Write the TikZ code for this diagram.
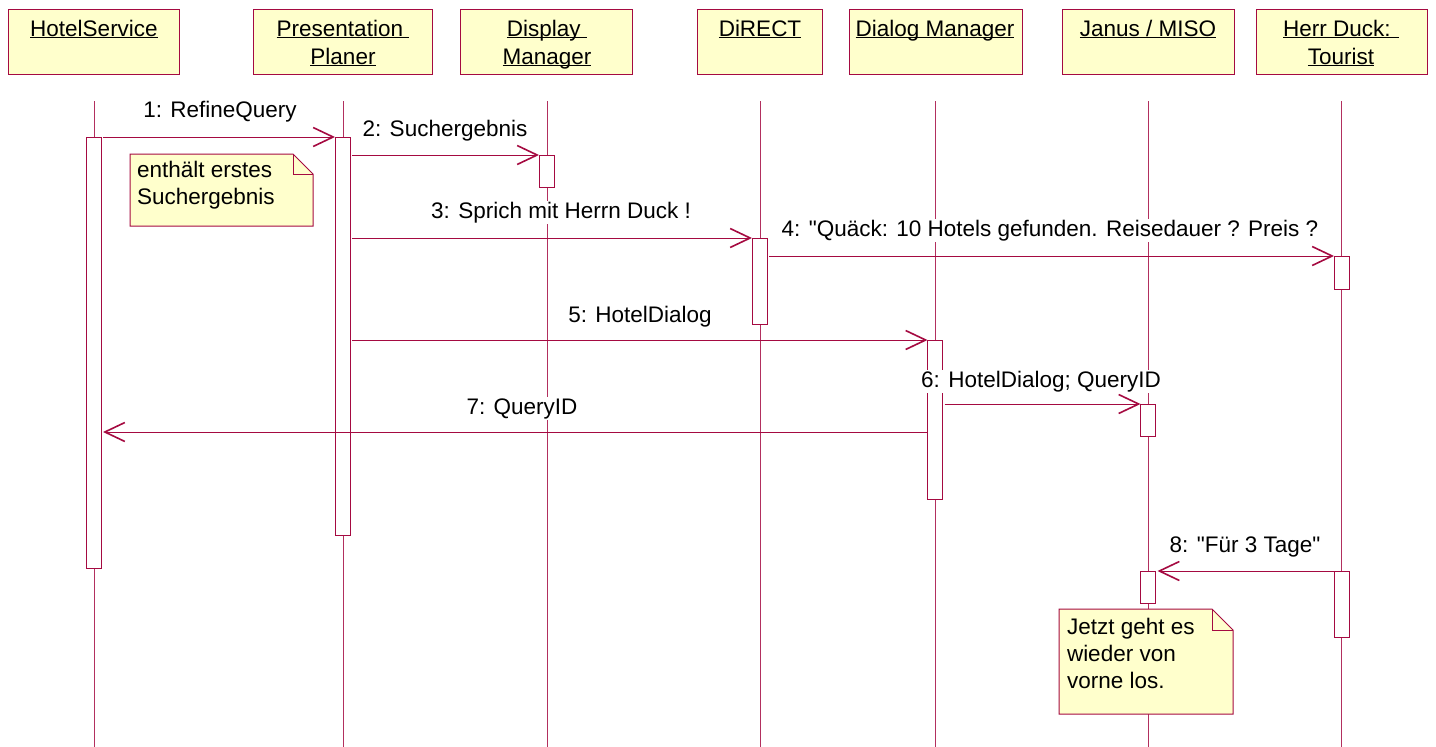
\documentclass[tikz,border=0pt]{standalone}
\usepackage{fontspec}
\setmainfont{Liberation Sans}[Ligatures=TeXOff]
\usetikzlibrary{arrows.meta,calc}
\definecolor{uml}{RGB}{165,10,65}
\definecolor{umlfill}{RGB}{255,255,204}
\newcommand\ulx[1]{\underline{\smash{#1}}}
\begin{document}
\begin{tikzpicture}[x=1pt,y=-1pt,
  every node/.style={font=\fontsize{22.5}{27}\selectfont, inner sep=0pt, outer sep=0pt},
  head/.style={draw=uml, fill=umlfill, line width=1pt, rectangle, minimum height=65pt},
  htext/.style={anchor=base},
  life/.style={draw=uml!85, line width=0.9pt},
  act/.style={draw=uml, fill=white, line width=1pt, rectangle, minimum width=15pt},
  msg/.style={draw=uml, line width=1pt, -{Straight Barb[length=20pt,width=19pt,line width=1.6pt]}},
  lbl/.style={fill=white, inner sep=1pt, anchor=base},
  notebox/.style={draw=uml, fill=umlfill, line width=1pt},
  notetext/.style={anchor=base west}]
\useasboundingbox (0,0) rectangle (1436,747);
\fill[white] (0,0) rectangle (1436,747);

% header boxes
\node[head, minimum width=171pt] (hs)  at (93.5,41.5) {};
\node[head, minimum width=179pt] (pp)  at (342.5,41.5) {};
\node[head, minimum width=172pt] (dm)  at (546,41.5) {};
\node[head, minimum width=125pt] (di)  at (759.5,41.5) {};
\node[head, minimum width=173pt] (dlg) at (935.5,41.5) {};
\node[head, minimum width=172pt] (ja)  at (1148,41.5) {};
\node[head, minimum width=171pt] (hd)  at (1341.5,41.5) {};

\node[htext] (hs1) at (94,36) {\ulx{HotelService}};
\node[htext] (pp1) at (343,36) {\ulx{Presentation }};
\node[htext] (pp2) at (343,64) {\ulx{Planer}};
\node[htext] (dm1) at (547,36) {\ulx{Display }};
\node[htext] (dm2) at (547,64) {\ulx{Manager}};
\node[htext] (di1) at (760,36) {\ulx{DiRECT}};
\node[htext] (dl1) at (935,36) {\ulx{Dialog Manager}};
\node[htext] (ja1) at (1148,36) {\ulx{Janus / MISO}};
\node[htext] (hd1) at (1341,36) {\ulx{Herr Duck: }};
\node[htext] (hd2) at (1341,64) {\ulx{Tourist}};

% lifelines
\foreach \n/\x in {hs/94, pp/343, dm/547, di/760, dl/935, ja/1148, hd/1341}{
  \coordinate (\n T) at (\x,101);
  \coordinate (\n E) at (\x,747);
  \draw[life] (\n T) -- (\n E);
}

% activation boxes
\node[act, minimum height=431pt] (hsA) at (93.5,352.5) {};
\node[act, minimum height=398pt] (ppA) at (342.5,336) {};
\node[act, minimum height=32pt]  (dmA) at (546.5,171) {};
\node[act, minimum height=86pt]  (diA) at (759.5,281) {};
\node[act, minimum height=33pt]  (hdA) at (1341.5,272.5) {};
\node[act, minimum height=159pt] (dlA) at (935,419.5) {};
\node[act, minimum height=32pt]  (jaA) at (1148,420) {};
\node[act, minimum height=32pt]  (jaB) at (1148,587) {};
\node[act, minimum height=66pt]  (hdB) at (1341.5,604) {};

% messages
\coordinate (y7) at (0,432);
\draw[msg] ([xshift=2pt]hsA.north east) -- (ppA.north west);
\draw[msg] ([xshift=2pt]ppA.east |- dmA.north) -- (dmA.north west);
\draw[msg] ([xshift=2pt]ppA.east |- diA.north) -- (diA.north west);
\draw[msg] ([xshift=2pt]diA.east |- hdA.north) -- (hdA.north west);
\draw[msg] ([xshift=2pt]ppA.east |- dlA.north) -- (dlA.north west);
\draw[msg] ([xshift=2pt]dlA.east |- jaA.north) -- (jaA.north west);
\draw[msg] (dlA.west |- y7) -- ([xshift=2pt]hsA.east |- y7);
\draw[msg] (hdB.north west) -- ([xshift=2pt]jaB.north east);

% message labels
\node[lbl] (l1) at (220,117) {1: RefineQuery};
\node[lbl] (l2) at (445,136) {2: Suchergebnis};
\node[lbl] (l3) at (561,218) {3: Sprich mit Herrn Duck !};
\node[lbl] (l4) at (1050,236) {4: "Quäck: 10 Hotels gefunden. Reisedauer ? Preis ?};
\node[lbl] (l5) at (640,322) {5: HotelDialog};
\node[lbl] (l6) at (1041,387) {6: HotelDialog; QueryID};
\node[lbl] (l7) at (522,414) {7: QueryID};
\node[lbl] (l8) at (1245,552) {8: "Für 3 Tage"};

% notes
\draw[notebox] (130,154) -- (293,154) -- (313,174) -- (313,226) -- (130,226) -- cycle;
\draw[uml, line width=1pt] (293,154) -- (293,174) -- (313,174);
\node[notetext] (n1a) at (137,177) {enthält erstes};
\node[notetext] (n1b) at (137,204) {Suchergebnis};

\draw[notebox] (1059,609) -- (1212,609) -- (1233,630) -- (1233,714) -- (1059,714) -- cycle;
\draw[uml, line width=1pt] (1212,609) -- (1212,630) -- (1233,630);
\node[notetext] (n2a) at (1067,634) {Jetzt geht es};
\node[notetext] (n2b) at (1067,661) {wieder von};
\node[notetext] (n2c) at (1067,688) {vorne los.};
\end{tikzpicture}
\end{document}
